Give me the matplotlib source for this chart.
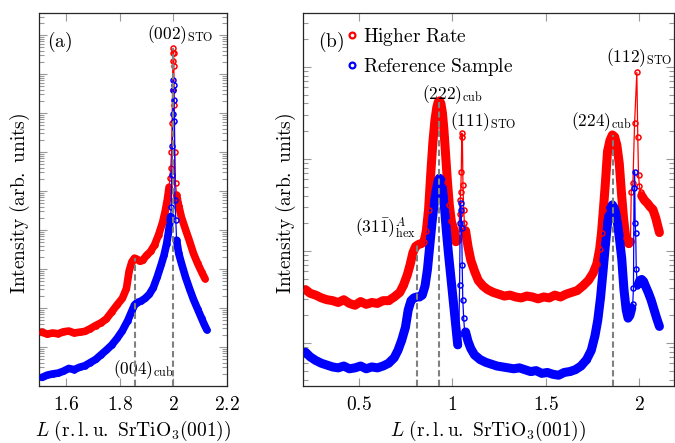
import numpy as np
import matplotlib
matplotlib.use('Agg')
import matplotlib.pyplot as plt
from matplotlib.lines import Line2D
from matplotlib.ticker import LogLocator, NullFormatter

plt.rcParams['mathtext.fontset'] = 'cm'
plt.rcParams['font.family'] = 'serif'

# ---- panel (a): around (002) STO, log10 intensity (arb.)
red_a_L = [1.51, 1.53, 1.55, 1.57, 1.59, 1.61, 1.63, 1.65, 1.67, 1.69, 1.71, 1.73,
           1.75, 1.77, 1.79, 1.81, 1.825, 1.835, 1.845, 1.855, 1.865, 1.875, 1.885,
           1.90, 1.915, 1.93, 1.945, 1.96, 1.97, 1.978, 1.984,
           2.012, 2.02, 2.03, 2.045, 2.06, 2.075, 2.09, 2.105, 2.118]
red_a_I = [1.38, 1.33, 1.36, 1.34, 1.39, 1.41, 1.36, 1.38, 1.40, 1.47, 1.55, 1.62,
           1.72, 1.90, 2.08, 2.25, 2.50, 2.95, 3.18, 3.28, 3.25, 3.20, 3.22,
           3.35, 3.45, 3.62, 3.88, 4.20, 4.50, 4.80, 5.10,
           4.90, 4.62, 4.33, 4.02, 3.72, 3.40, 3.15, 2.93, 2.75]
red_a_pk_L = [1.987, 1.990, 1.993, 1.995, 1.997, 1.998, 1.999, 2.000, 2.001, 2.002,
              2.003, 2.005, 2.008]
red_a_pk_I = [5.33, 5.58, 6.00, 6.74, 7.60, 8.33, 8.54, 8.66, 8.55, 8.20, 7.20, 6.00, 5.20]

blue_a_L = [1.51, 1.53, 1.55, 1.57, 1.59, 1.61, 1.63, 1.65, 1.67, 1.69, 1.71, 1.73,
            1.75, 1.77, 1.79, 1.81, 1.83, 1.845, 1.855, 1.865, 1.88, 1.895, 1.91,
            1.925, 1.94, 1.955, 1.965, 1.975, 1.983, 1.99,
            2.012, 2.02, 2.03, 2.045, 2.06, 2.075, 2.09, 2.105, 2.115, 2.125]
blue_a_I = [0.22, 0.28, 0.31, 0.33, 0.38, 0.45, 0.42, 0.48, 0.52, 0.60, 0.68, 0.80,
            0.92, 1.05, 1.22, 1.42, 1.68, 1.92, 2.08, 2.14, 2.18, 2.25, 2.35,
            2.52, 2.80, 3.12, 3.35, 3.65, 4.00, 4.35,
            3.74, 3.40, 3.15, 2.80, 2.50, 2.22, 1.98, 1.74, 1.58, 1.44]
blue_a_pk_L = [1.992, 1.994, 1.996, 1.998, 1.999, 2.000, 2.001, 2.002, 2.004, 2.006, 2.009]
blue_a_pk_I = [4.60, 5.40, 6.15, 6.97, 7.60, 7.85, 7.72, 7.33, 6.80, 4.76, 4.27]

# ---- panel (b): wide L scan
red_b_L = [0.215, 0.24, 0.27, 0.30, 0.33, 0.36, 0.39, 0.42, 0.45, 0.48, 0.51, 0.54,
           0.57, 0.60, 0.63, 0.66, 0.69, 0.72, 0.74, 0.76, 0.775, 0.79, 0.805, 0.82,
           0.835, 0.85, 0.862, 0.874, 0.886, 0.897, 0.908, 0.918, 0.926, 0.933, 0.940,
           0.948, 0.956, 0.965, 0.975, 0.985, 0.996, 1.008, 1.02, 1.03,
           1.072, 1.085, 1.10, 1.12, 1.14, 1.165, 1.19, 1.22, 1.25, 1.28, 1.31, 1.34,
           1.37, 1.40, 1.43, 1.46, 1.49, 1.52, 1.55, 1.58, 1.61, 1.64, 1.67, 1.70,
           1.73, 1.755, 1.775, 1.79, 1.80, 1.81, 1.82, 1.832, 1.845, 1.858, 1.87,
           1.882, 1.895, 1.907, 1.918, 1.93, 1.945, 1.955,
           2.015, 2.03, 2.045, 2.06, 2.075, 2.09, 2.10, 2.11]
red_b_I = [0.58, 0.54, 0.52, 0.49, 0.47, 0.46, 0.44, 0.47, 0.43, 0.41, 0.45, 0.42,
           0.44, 0.43, 0.46, 0.46, 0.50, 0.55, 0.63, 0.74, 0.85, 0.98, 1.05, 1.07,
           1.08, 1.10, 1.22, 1.45, 1.85, 2.18, 2.42, 2.56, 2.62, 2.63, 2.60,
           2.50, 2.32, 2.05, 1.75, 1.50, 1.32, 1.24, 1.10, 1.12,
           1.22, 1.05, 0.90, 0.78, 0.68, 0.62, 0.58, 0.55, 0.53, 0.51, 0.52, 0.50,
           0.49, 0.51, 0.50, 0.48, 0.50, 0.49, 0.52, 0.50, 0.53, 0.55, 0.57, 0.62,
           0.68, 0.76, 0.86, 1.02, 1.20, 1.45, 1.72, 2.08, 2.20, 2.26, 2.24,
           2.15, 1.95, 1.62, 1.35, 1.14, 1.08, 1.10,
           1.60, 1.55, 1.52, 1.48, 1.45, 1.36, 1.28, 1.20]
red_b_pk_L = [1.036, 1.040, 1.043, 1.046, 1.049, 1.052, 1.055, 1.058, 1.062, 1.066,
              1.959, 1.968, 1.977, 1.989, 1.994, 1.998, 2.003, 2.010]
red_b_pk_I = [1.20, 1.40, 1.55, 1.64, 1.86, 2.28, 2.24, 1.72, 1.45, 1.30,
              1.64, 1.74, 2.39, 2.94, 2.24, 1.83, 1.70, 1.64]

blue_b_L = [0.215, 0.24, 0.27, 0.30, 0.33, 0.36, 0.39, 0.42, 0.45, 0.48, 0.51, 0.54,
            0.57, 0.60, 0.63, 0.66, 0.69, 0.71, 0.73, 0.75, 0.765, 0.78, 0.795, 0.81,
            0.825, 0.84, 0.855, 0.868, 0.88, 0.892, 0.903, 0.914, 0.924, 0.932, 0.940,
            0.950, 0.960, 0.970, 0.980, 0.990, 1.000, 1.010, 1.020, 1.030,
            1.072, 1.085, 1.10, 1.12, 1.15, 1.18, 1.21, 1.24, 1.27, 1.30, 1.33, 1.36,
            1.39, 1.42, 1.45, 1.48, 1.51, 1.54, 1.57, 1.60, 1.63, 1.66, 1.69, 1.72,
            1.745, 1.765, 1.78, 1.795, 1.808, 1.82, 1.832, 1.845, 1.858, 1.87, 1.882,
            1.895, 1.908, 1.92, 1.932, 1.942, 1.952, 1.962,
            1.997, 2.005, 2.015, 2.025, 2.035, 2.05, 2.065, 2.08, 2.095, 2.11]
blue_b_I = [-0.10, -0.15, -0.19, -0.22, -0.24, -0.26, -0.27, -0.25, -0.28, -0.27, -0.25, -0.28,
            -0.26, -0.27, -0.25, -0.22, -0.16, -0.08, 0.03, 0.17, 0.36, 0.46, 0.49, 0.50,
            0.50, 0.52, 0.62, 0.80, 1.05, 1.30, 1.50, 1.65, 1.75, 1.79, 1.77,
            1.65, 1.45, 1.20, 0.98, 0.78, 0.58, 0.38, 0.18, -0.02,
            0.12, 0.02, -0.06, -0.13, -0.18, -0.21, -0.23, -0.25, -0.26, -0.27, -0.28, -0.27,
            -0.29, -0.31, -0.30, -0.33, -0.32, -0.34, -0.35, -0.32, -0.31, -0.29, -0.25, -0.18,
            -0.08, 0.08, 0.25, 0.50, 0.78, 1.05, 1.30, 1.45, 1.50, 1.46, 1.35,
            1.15, 0.92, 0.58, 0.36, 0.27, 0.30, 0.38,
            0.64, 0.68, 0.69, 0.67, 0.62, 0.55, 0.47, 0.37, 0.27, 0.18]
blue_b_pk_L = [1.036, 1.040, 1.043, 1.045, 1.048, 1.051, 1.054, 1.057, 1.062, 1.067,
               1.967, 1.971, 1.974, 1.977, 1.980, 1.983, 1.986, 1.992]
blue_b_pk_I = [0.10, 0.63, 1.30, 1.52, 1.44, 1.25, 0.85, 0.47, 0.27, 0.12,
               0.42, 0.60, 1.68, 1.86, 1.30, 1.19, 0.80, 0.62]

# reflection markers (L, top of dashed line in log10 I)
marks_a = [(1.857, 3.28), (2.0, 8.66)]
marks_b = [(0.81, 1.07), (0.932, 2.62), (1.862, 2.26)]

RED = '#ff0000'
BLUE = '#0000ff'


def draw_curve(ax, L, I, pk_L, pk_I, color, band_lw):
    L = np.asarray(L)
    y = 10 ** np.asarray(I)
    pk_L = np.asarray(pk_L)
    # thick band, broken where the sharp substrate peaks sit
    cuts = sorted(set(np.searchsorted(L, pk_L)))
    edges = [0] + [c for c in cuts if 0 < c < len(L)] + [len(L)]
    for a, b in zip(edges[:-1], edges[1:]):
        ax.plot(L[a:b], y[a:b], color=color, lw=band_lw,
                solid_capstyle='round', solid_joinstyle='round', zorder=2)
    allL = np.concatenate([L, pk_L])
    ally = np.concatenate([y, 10 ** np.asarray(pk_I)])
    order = np.argsort(allL)
    ax.plot(allL[order], ally[order], color=color, lw=0.9, marker='o', ms=3.6,
            mfc='none', mew=1.1, zorder=3)


def style(ax, ylo, yhi, ylab_x):
    ax.set_yscale('log')
    ax.set_ylim(10 ** ylo, 10 ** yhi)
    ax.yaxis.set_major_locator(LogLocator(base=10, numticks=40))
    ax.yaxis.set_minor_locator(LogLocator(base=10, subs=np.arange(2, 10), numticks=40))
    ax.yaxis.set_major_formatter(NullFormatter())
    ax.yaxis.set_minor_formatter(NullFormatter())
    ax.tick_params(which='both', direction='in', top=True, right=True,
                   color='0.6', width=0.8)
    ax.tick_params(which='major', length=5.5, pad=7, labelsize=14)
    ax.tick_params(which='minor', length=3.5)
    for s in ax.spines.values():
        s.set_color('0.15')
        s.set_linewidth(0.9)
    ax.set_xlabel(r'$L\ \mathrm{(r.l.u.\ SrTiO_3(001))}$', fontsize=14, labelpad=4)
    ax.set_ylabel(r'$\mathrm{Intensity\ (arb.\ units)}$', fontsize=14)
    ax.yaxis.set_label_coords(ylab_x, 0.49)


fig = plt.figure(figsize=(6.75, 4.43), dpi=100)
ax_a = fig.add_axes([39.3 / 675, 57 / 443, (227 - 39.3) / 675, 373.5 / 443])
ax_b = fig.add_axes([302.7 / 675, 57 / 443, (674 - 302.7) / 675, 373.5 / 443])

# panel a
draw_curve(ax_a, red_a_L, red_a_I, red_a_pk_L, red_a_pk_I, RED, 5.5)
draw_curve(ax_a, blue_a_L, blue_a_I, blue_a_pk_L, blue_a_pk_I, BLUE, 5.5)
style(ax_a, 0, 9.58, -0.038)
for L0, top in marks_a:
    ax_a.plot([L0, L0], [1, 10 ** top], color='0.5', lw=1.5, ls=(0, (3, 1.6)), zorder=4)
ax_a.set_xlim(1.5, 2.2)
ax_a.set_xticks([1.6, 1.8, 2.0, 2.2], [r'$1.6$', r'$1.8$', r'$2$', r'$2.2$'])
ax_a.text(1.575, 10 ** 8.82, r'$\mathrm{(a)}$', fontsize=14, ha='center', va='center')
ax_a.text(2.025, 10 ** 9.0, r'$(002)_{\mathrm{STO}}$', fontsize=12.5, ha='center', va='center')
ax_a.text(1.888, 10 ** 0.41, r'$(004)_{\mathrm{cub}}$', fontsize=12.5, ha='center', va='center')

# panel b
draw_curve(ax_b, red_b_L, red_b_I, red_b_pk_L, red_b_pk_I, RED, 6.5)
draw_curve(ax_b, blue_b_L, blue_b_I, blue_b_pk_L, blue_b_pk_I, BLUE, 6.5)
style(ax_b, -0.467, 3.59, -0.012)
for L0, top in marks_b:
    ax_b.plot([L0, L0], [10 ** -0.467, 10 ** top], color='0.5', lw=1.5,
              ls=(0, (3, 1.6)), zorder=4)
ax_b.set_xlim(0.2, 2.188)
ax_b.set_xticks([0.5, 1.0, 1.5, 2.0], [r'$0.5$', r'$1$', r'$1.5$', r'$2$'])
ax_b.text(0.352, 10 ** 3.27, r'$\mathrm{(b)}$', fontsize=14, ha='center', va='center')
ax_b.text(1.0, 10 ** 2.70, r'$(222)_{\mathrm{cub}}$', fontsize=12.5, ha='center', va='center')
ax_b.text(1.164, 10 ** 2.40, r'$(111)_{\mathrm{STO}}$', fontsize=12.5, ha='center', va='center')
ax_b.text(1.798, 10 ** 2.40, r'$(224)_{\mathrm{cub}}$', fontsize=12.5, ha='center', va='center')
ax_b.text(2.004, 10 ** 3.10, r'$(112)_{\mathrm{STO}}$', fontsize=12.5, ha='center', va='center')
ax_b.text(0.645, 10 ** 1.24, r'$(31\bar{1})^{A}_{\mathrm{hex}}$', fontsize=12.5,
          ha='center', va='center')

handles = [Line2D([], [], ls='none', marker='o', ms=4.2, mew=1.6, mfc='none', mec=RED),
           Line2D([], [], ls='none', marker='o', ms=4.2, mew=1.6, mfc='none', mec=BLUE)]
ax_b.legend(handles, [r'$\mathrm{Higher\ Rate}$', r'$\mathrm{Reference\ Sample}$'],
            loc='upper left', bbox_to_anchor=(0.08, 1.0), frameon=False, fontsize=14,
            handlelength=0.6, handletextpad=0.25, labelspacing=0.38, borderaxespad=0.3)

fig.savefig('out.png', dpi=100)
